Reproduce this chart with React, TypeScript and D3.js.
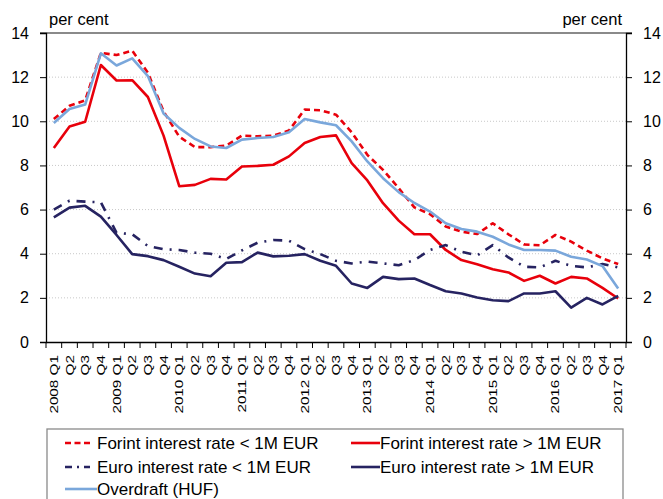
import React, { useEffect, useRef } from "react";
import * as d3 from "d3";

const years = [2008, 2009, 2010, 2011, 2012, 2013, 2014, 2015, 2016, 2017];
const quarters = ["Q1", "Q2", "Q3", "Q4"];
const categories: string[] = [];
years.forEach((y) => quarters.forEach((q) => { if (y < 2017 || q === "Q1") categories.push(`${y} ${q}`); }));

const forintSmall = [10.1,10.7,10.95,13.1,13.0,13.2,12.2,10.45,9.3,8.83,8.83,8.9,9.35,9.32,9.35,9.58,10.53,10.5,10.3,9.5,8.48,7.8,6.97,6.1,5.79,5.23,5.0,4.89,5.38,4.88,4.42,4.38,4.85,4.55,4.14,3.79,3.53];
const forintLarge = [8.79,9.76,9.98,12.55,11.85,11.86,11.1,9.35,7.06,7.12,7.39,7.36,7.95,7.98,8.03,8.41,9.02,9.29,9.36,8.1,7.32,6.29,5.5,4.88,4.88,4.17,3.71,3.52,3.3,3.15,2.77,3.0,2.65,2.95,2.88,2.45,1.97];
const euroSmall = [6.0,6.4,6.36,6.33,4.95,4.88,4.35,4.2,4.17,4.05,4.0,3.76,4.15,4.5,4.62,4.59,4.21,3.98,3.68,3.56,3.64,3.56,3.48,3.71,4.17,4.39,4.09,3.92,4.39,3.83,3.41,3.38,3.68,3.45,3.38,3.53,3.38];
const euroLarge = [5.65,6.09,6.17,5.68,4.85,3.98,3.89,3.71,3.41,3.1,2.98,3.59,3.62,4.05,3.88,3.91,3.98,3.68,3.45,2.65,2.45,2.95,2.85,2.88,2.58,2.3,2.2,2.02,1.89,1.85,2.2,2.2,2.3,1.56,2.0,1.7,2.09];
const overdraft = [9.92,10.56,10.76,13.08,12.53,12.85,12.05,10.35,9.7,9.2,8.86,8.79,9.17,9.24,9.29,9.5,10.1,9.95,9.82,9.09,8.18,7.42,6.79,6.3,5.91,5.38,5.12,5.0,4.77,4.42,4.17,4.17,4.14,3.86,3.74,3.44,2.42];

const yTicks = [0, 2, 4, 6, 8, 10, 12, 14];
const seriesNames = [
  "Forint interest rate < 1M EUR",
  "Forint interest rate > 1M EUR",
  "Euro interest rate < 1M EUR",
  "Euro interest rate > 1M EUR",
  "Overdraft (HUF)",
];
const unitLabel = "per cent";

const FONT = "'Liberation Sans', Arial, sans-serif";

export default function App() {
  const ref = useRef<SVGSVGElement>(null);

  useEffect(() => {
    const svg = d3.select(ref.current);
    svg.selectAll("*").remove();
    const W = 663, H = 499;
    const left = 46, right = 626, top = 33, bottom = 342;
    const x = d3.scaleBand<string>().domain(categories).range([left, right]).padding(0);
    const cx = (c: string) => (x(c) as number) + x.bandwidth() / 2;
    const y = d3.scaleLinear().domain([0, 14]).range([bottom, top]);

    svg.append("rect").attr("width", W).attr("height", H).attr("fill", "#fff");

    // gridlines
    svg.append("g").selectAll("line").data(yTicks.filter((t) => t > 0 && t < 14)).join("line")
      .attr("x1", left).attr("x2", right).attr("y1", (d) => y(d)).attr("y2", (d) => y(d))
      .attr("stroke", "#c8c8c8").attr("stroke-width", 1).attr("stroke-dasharray", "1,2");
    // top border
    svg.append("line").attr("x1", left - 6).attr("x2", right + 6).attr("y1", y(14)).attr("y2", y(14))
      .attr("stroke", "#8a8a8a").attr("stroke-width", 2);

    // left axis
    const la = svg.append("g").attr("transform", `translate(${left},0)`)
      .call(d3.axisLeft(y).tickValues(yTicks).tickSize(6).tickPadding(11).tickFormat(d3.format("d")));
    la.select(".domain").attr("stroke", "#000").attr("stroke-width", 1.3);
    la.selectAll(".tick line").attr("stroke", "#000");
    la.selectAll("text").attr("font-family", FONT).attr("font-size", 16).attr("fill", "#000");

    const ra = svg.append("g").attr("transform", `translate(${right},0)`)
      .call(d3.axisRight(y).tickValues(yTicks).tickSize(6).tickPadding(11).tickFormat(d3.format("d")));
    ra.select(".domain").attr("stroke", "#000").attr("stroke-width", 1.3);
    ra.selectAll(".tick line").attr("stroke", "#000");
    ra.selectAll("text").attr("font-family", FONT).attr("font-size", 16).attr("fill", "#000");

    // x axis
    const xa = svg.append("g").attr("transform", `translate(0,${bottom})`)
      .call(d3.axisBottom(x).tickSize(0).tickFormat(() => ""));
    xa.select(".domain").attr("stroke", "#000").attr("stroke-width", 1.3);
    const bounds = categories.map((c) => x(c) as number).concat([right]);
    svg.append("g").selectAll("line").data(bounds).join("line")
      .attr("x1", (d) => d).attr("x2", (d) => d).attr("y1", bottom).attr("y2", bottom + 6)
      .attr("stroke", "#000").attr("stroke-width", 1);
    svg.append("g").selectAll("text").data(categories).join("text")
      .attr("transform", (d) => `translate(${cx(d)},${bottom + 13}) rotate(-90) scale(1.33,1)`)
      .attr("text-anchor", "end").attr("dy", "0.35em")
      .attr("font-family", FONT).attr("font-size", 11.5).attr("fill", "#000")
      .text((d) => (d.endsWith("Q1") ? d : d.split(" ")[1]));

    // unit labels
    svg.append("text").attr("x", 49).attr("y", 25).attr("font-family", FONT).attr("font-size", 16.5).text(unitLabel);
    svg.append("text").attr("x", 622).attr("y", 25).attr("text-anchor", "end").attr("font-family", FONT).attr("font-size", 16.5).text(unitLabel);

    const styles = [
      { data: forintSmall, color: "#e8000b", dash: "6,4" },
      { data: forintLarge, color: "#e8000b", dash: null },
      { data: euroSmall, color: "#262361", dash: "9,7,2,7" },
      { data: euroLarge, color: "#262361", dash: null },
      { data: overdraft, color: "#7aa7db", dash: null },
    ];
    const line = d3.line<number>().x((_, i) => cx(categories[i])).y((d) => y(d));
    styles.forEach((s) => {
      const p = svg.append("path").attr("d", line(s.data)).attr("fill", "none")
        .attr("stroke", s.color).attr("stroke-width", 2.6).attr("stroke-linejoin", "round");
      if (s.dash) p.attr("stroke-dasharray", s.dash);
    });

    // legend
    svg.append("rect").attr("x", 47).attr("y", 429).attr("width", 576).attr("height", 90)
      .attr("fill", "none").attr("stroke", "#8a8a8a").attr("stroke-width", 1.3);
    const pos = [
      { sx: 65, ex: 90, tx: 97, ty: 443 },
      { sx: 351, ex: 380, tx: 380, ty: 443 },
      { sx: 65, ex: 90, tx: 97, ty: 467 },
      { sx: 351, ex: 380, tx: 380, ty: 467 },
      { sx: 65, ex: 97, tx: 97, ty: 489 },
    ];
    styles.forEach((s, i) => {
      const p = pos[i];
      const l = svg.append("line").attr("x1", p.sx).attr("x2", p.ex).attr("y1", p.ty).attr("y2", p.ty)
        .attr("stroke", s.color).attr("stroke-width", 2.6);
      if (s.dash) l.attr("stroke-dasharray", s.dash === "6,4" ? "6,3.5" : "7,5,2,5");
      svg.append("text").attr("x", p.tx).attr("y", p.ty).attr("dy", "0.35em")
        .attr("font-family", FONT).attr("font-size", 17).attr("fill", "#000").text(seriesNames[i]);
    });
  }, []);

  return (
    <svg ref={ref} width={663} height={499}
      style={{ position: "fixed", left: 0, top: 0, display: "block" }} />
  );
}
